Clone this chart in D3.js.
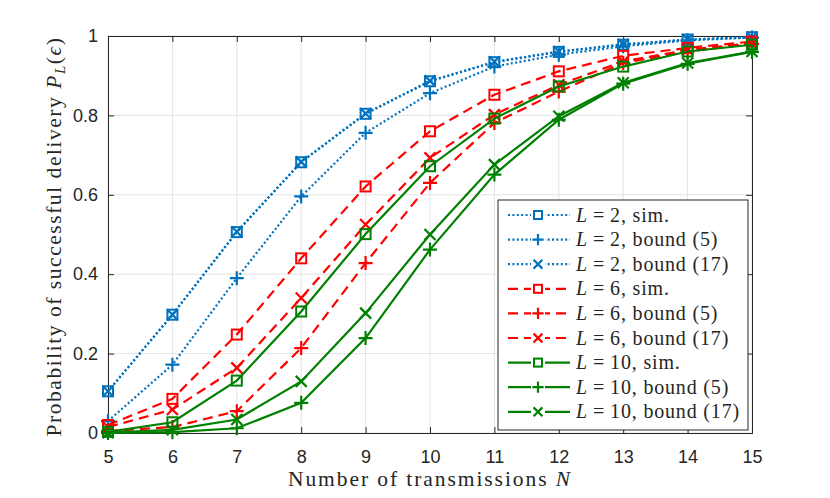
<!DOCTYPE html>
<html>
<head>
<meta charset="utf-8">
<script src="https://cdn.jsdelivr.net/npm/d3@7"></script>
<style>
  body { margin: 0; background: #fff; }
  .serif { font-family: "Liberation Serif", "Times New Roman", serif; fill: #262626; }
</style>
</head>
<body>
<div id="chart"></div>
<script>
// data
var transmissions = [5, 6, 7, 8, 9, 10, 11, 12, 13, 14, 15];
var yTicks = [0, 0.2, 0.4, 0.6, 0.8, 1];

var simL2     = [0.105, 0.298, 0.506, 0.682, 0.804, 0.886, 0.934, 0.960, 0.978, 0.991, 0.997];
var bound5L2  = [0.030, 0.172, 0.390, 0.596, 0.756, 0.856, 0.923, 0.953, 0.974, 0.989, 0.996];
var bound17L2 = [0.105, 0.298, 0.507, 0.683, 0.805, 0.887, 0.935, 0.961, 0.979, 0.991, 0.997];
var simL6     = [0.020, 0.086, 0.248, 0.440, 0.621, 0.760, 0.852, 0.911, 0.950, 0.970, 0.986];
var bound5L6  = [0.005, 0.015, 0.055, 0.214, 0.428, 0.630, 0.781, 0.860, 0.932, 0.961, 0.980];
var bound17L6 = [0.015, 0.059, 0.164, 0.340, 0.525, 0.693, 0.802, 0.877, 0.936, 0.965, 0.982];
var simL10     = [0.003, 0.027, 0.132, 0.306, 0.501, 0.672, 0.792, 0.873, 0.923, 0.961, 0.978];
var bound5L10  = [0.000, 0.002, 0.012, 0.076, 0.239, 0.462, 0.651, 0.789, 0.880, 0.930, 0.960];
var bound17L10 = [0.001, 0.008, 0.034, 0.130, 0.302, 0.500, 0.676, 0.798, 0.882, 0.932, 0.961];

var series = [
  {L: "2",  tag: ", sim.",         values: simL2,      color: "#0072BD", dash: "2,2.4", marker: "square"},
  {L: "2",  tag: ", bound (5)",    values: bound5L2,   color: "#0072BD", dash: "2,2.4", marker: "plus"},
  {L: "2",  tag: ", bound (17)",   values: bound17L2,  color: "#0072BD", dash: "2,2.4", marker: "cross"},
  {L: "6",  tag: ", sim.",         values: simL6,      color: "#FF0000", dash: "10,6",  marker: "square"},
  {L: "6",  tag: ", bound (5)",    values: bound5L6,   color: "#FF0000", dash: "10,6",  marker: "plus"},
  {L: "6",  tag: ", bound (17)",   values: bound17L6,  color: "#FF0000", dash: "10,6",  marker: "cross"},
  {L: "10", tag: ", sim.",         values: simL10,     color: "#008000", dash: null,    marker: "square"},
  {L: "10", tag: ", bound (5)",    values: bound5L10,  color: "#008000", dash: null,    marker: "plus"},
  {L: "10", tag: ", bound (17)",   values: bound17L10, color: "#008000", dash: null,    marker: "cross"}
];

// set the dimensions and margins of the graph
var margin = {top: 36, right: 78, bottom: 65, left: 108},
    width = 830 - margin.left - margin.right,
    height = 498 - margin.top - margin.bottom;

var svg = d3.select("#chart")
  .append("svg")
    .attr("width", 830)
    .attr("height", 498)
  .append("g")
    .attr("transform", "translate(" + margin.left + "," + margin.top + ")");

var x = d3.scaleLinear().domain([5, 15]).range([0, width]);
var y = d3.scaleLinear().domain([0, 1]).range([height, 0]);

// stretch a text with letter-spacing until it is as wide as the original
function fit(sel, target) {
  var w = sel.node().getComputedTextLength();
  var n = sel.node().textContent.length;
  sel.attr("letter-spacing", Math.max(0, (target - w) / n));
}

// grid
svg.append("g").selectAll("line")
  .data(transmissions)
  .enter().append("line")
    .attr("x1", function(d) { return x(d); })
    .attr("x2", function(d) { return x(d); })
    .attr("y1", 0).attr("y2", height)
    .attr("stroke", "#e3e3e3").attr("stroke-width", 1);
svg.append("g").selectAll("line")
  .data(yTicks)
  .enter().append("line")
    .attr("y1", function(d) { return y(d); })
    .attr("y2", function(d) { return y(d); })
    .attr("x1", 0).attr("x2", width)
    .attr("stroke", "#e3e3e3").attr("stroke-width", 1);

// axes (ticks inward, mirrored on top/right)
var fmt = function(d) { return d3.format("~g")(d); };
svg.append("g")
  .attr("transform", "translate(0," + height + ")")
  .call(d3.axisBottom(x).tickValues(transmissions).tickSize(-6).tickPadding(17).tickFormat(fmt));
svg.append("g")
  .call(d3.axisLeft(y).tickValues(yTicks).tickSize(-6).tickPadding(10).tickFormat(fmt));
svg.append("g")
  .call(d3.axisTop(x).tickValues(transmissions).tickSize(-6).tickFormat(""));
svg.append("g")
  .attr("transform", "translate(" + width + ",0)")
  .call(d3.axisRight(y).tickValues(yTicks).tickSize(-6).tickFormat(""));

svg.selectAll(".domain").attr("stroke", "#262626");
svg.selectAll(".tick line").attr("stroke", "#262626");
svg.selectAll(".tick text")
  .attr("font-family", "'Liberation Sans', Arial, sans-serif")
  .attr("font-size", 18)
  .attr("fill", "#262626");

// lines
var line = d3.line()
  .x(function(d, i) { return x(transmissions[i]); })
  .y(function(d) { return y(d); });

function drawMarker(g, type, color, s) {
  if (type === "square") {
    g.append("rect").attr("x", -s / 2).attr("y", -s / 2).attr("width", s).attr("height", s)
      .attr("fill", "none").attr("stroke", color).attr("stroke-width", 2);
  } else if (type === "plus") {
    g.append("path").attr("d", "M" + (-s * 0.7) + ",0H" + (s * 0.7) + "M0," + (-s * 0.7) + "V" + (s * 0.7))
      .attr("stroke", color).attr("stroke-width", 2.2);
  } else {
    g.append("path").attr("d", "M" + (-s * 0.55) + "," + (-s * 0.55) + "L" + (s * 0.55) + "," + (s * 0.55) +
        "M" + (-s * 0.55) + "," + (s * 0.55) + "L" + (s * 0.55) + "," + (-s * 0.55))
      .attr("stroke", color).attr("stroke-width", 2.2);
  }
}

series.forEach(function(s) {
  svg.append("path")
    .datum(s.values)
    .attr("d", line)
    .attr("fill", "none")
    .attr("stroke", s.color)
    .attr("stroke-width", 2.2)
    .attr("stroke-dasharray", s.dash);
  svg.selectAll(null)
    .data(s.values)
    .enter().append("g")
      .attr("transform", function(d, i) { return "translate(" + x(transmissions[i]) + "," + y(d) + ")"; })
      .each(function() { drawMarker(d3.select(this), s.marker, s.color, 10); });
});

// legend
var lg = svg.append("g").attr("transform", "translate(" + (498 - margin.left) + "," + (200 - margin.top) + ")");
lg.append("rect").attr("width", 250).attr("height", 230)
  .attr("fill", "#fff").attr("stroke", "#262626").attr("stroke-width", 1);
var legendTexts = [];
series.forEach(function(s, i) {
  var row = lg.append("g").attr("transform", "translate(0," + (15 + i * 24.6) + ")");
  row.append("line").attr("x1", 10).attr("x2", 72).attr("y1", 0).attr("y2", 0)
    .attr("stroke", s.color).attr("stroke-width", 2.2).attr("stroke-dasharray", s.dash);
  var m = row.append("g").attr("transform", "translate(40,0)");
  m.append("rect").attr("x", -7).attr("y", -7).attr("width", 14).attr("height", 14).attr("fill", "#fff");
  drawMarker(m, s.marker, s.color, 8);
  var t = row.append("text").attr("class", "serif").attr("x", 78).attr("y", 6.5).style("font-size", "20px");
  t.append("tspan").style("font-style", "italic").text("L");
  t.append("tspan").attr("dx", 5).text("=");
  t.append("tspan").attr("dx", 5).text(s.L + s.tag);
  legendTexts.push(t);
});
// same spacing for every entry, taken from the longest one
var longest = legendTexts[legendTexts.length - 1];
fit(longest, 154);
legendTexts.forEach(function(t) { t.attr("letter-spacing", longest.attr("letter-spacing")); });

// axis labels
var xl = svg.append("text").attr("class", "serif")
  .attr("x", width / 2).attr("y", height + 53)
  .attr("text-anchor", "middle").style("font-size", "21.5px");
xl.append("tspan").text("Number of transmissions ");
xl.append("tspan").style("font-style", "italic").text("N");
fit(xl, 284);

var yl = svg.append("text").attr("class", "serif")
  .attr("transform", "translate(-47," + (height / 2 + 2) + ")rotate(-90)")
  .attr("text-anchor", "middle").style("font-size", "21.5px");
yl.append("tspan").text("Probability of successful delivery ");
yl.append("tspan").style("font-style", "italic").text("P");
yl.append("tspan").style("font-style", "italic").style("font-size", "15px").attr("dy", 4).text("L");
yl.append("tspan").attr("dy", -4).text("(");
yl.append("tspan").style("font-style", "italic").text("ϵ");
yl.append("tspan").text(")");
fit(yl, 400);
</script>
</body>
</html>
